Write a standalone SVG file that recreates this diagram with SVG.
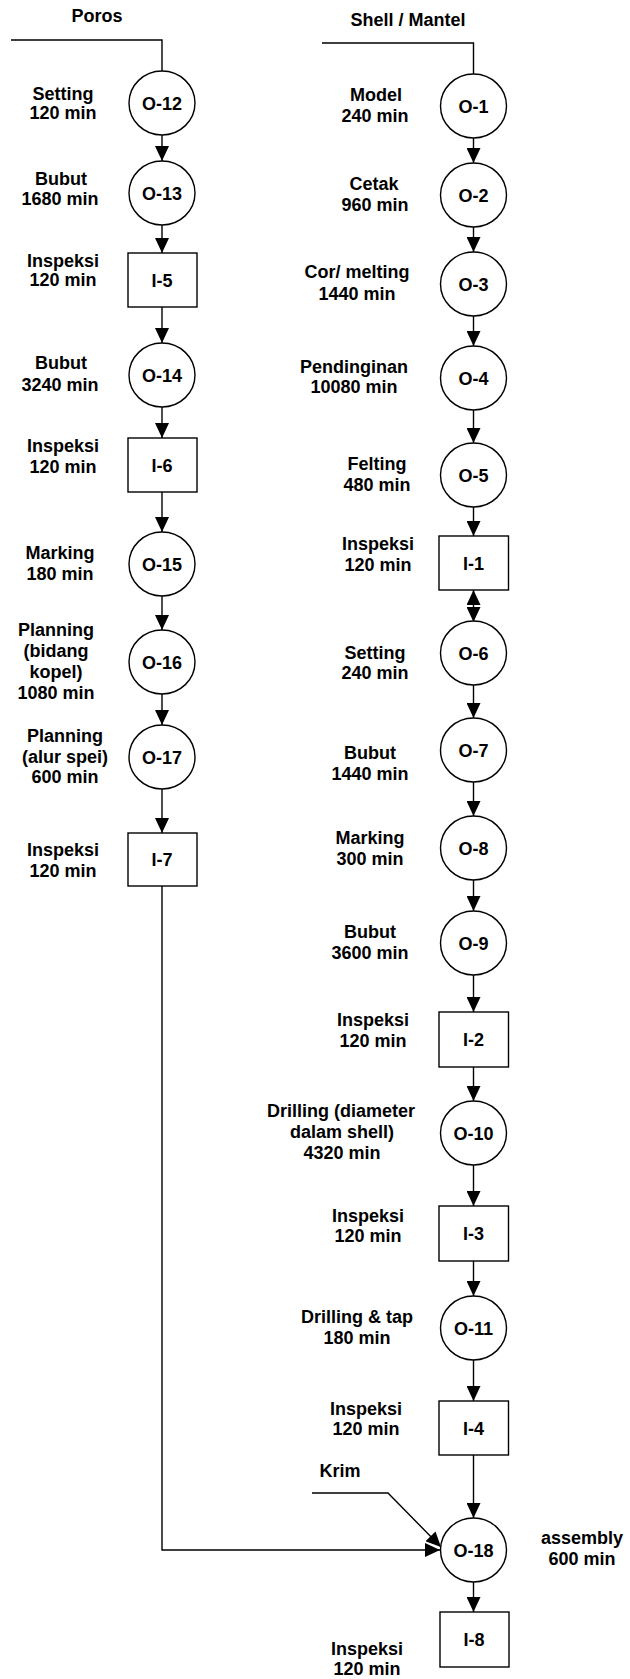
<svg xmlns="http://www.w3.org/2000/svg" width="630" height="1679" viewBox="0 0 630 1679">
  <defs>
    <style>
      .bg { fill: #ffffff; }
      .node { fill: #ffffff; stroke: #000000; stroke-width: 1.4; }
      .wire { fill: none; stroke: #000000; stroke-width: 1.4; }
      .arrow { fill: none; stroke: #000000; stroke-width: 1.4; marker-end: url(#head); }
      .id { font-family: "Liberation Sans", Arial, sans-serif; font-weight: bold; font-size: 18px; text-anchor: middle; fill: #000000; }
      .lbl { font-family: "Liberation Sans", Arial, sans-serif; font-weight: bold; font-size: 18px; text-anchor: middle; fill: #000000; }
    </style>
    <marker id="head" markerUnits="userSpaceOnUse" markerWidth="15" markerHeight="14" refX="15" refY="7" orient="auto-start-reverse">
      <path d="M0,0 L15,7 L0,14 Z" fill="#000000"/>
    </marker>
  </defs>

  <rect class="bg" x="0" y="0" width="630" height="1679"/>

  <!-- column headings -->
  <text class="lbl" x="97" y="22">Poros</text>
  <text class="lbl" x="408" y="26">Shell / Mantel</text>

  <!-- connectors -->
  <g id="connectors">
    <!-- Poros line -->
    <polyline class="wire" points="11,40 162,40 162,71"/>
    <line class="arrow" x1="162" y1="135" x2="162" y2="161"/>
    <line class="arrow" x1="162" y1="225" x2="162" y2="253"/>
    <line class="arrow" x1="162" y1="307" x2="162" y2="343"/>
    <line class="arrow" x1="162" y1="407" x2="162" y2="438"/>
    <line class="arrow" x1="162" y1="492" x2="162" y2="532"/>
    <line class="arrow" x1="162" y1="596" x2="162" y2="630"/>
    <line class="arrow" x1="162" y1="694" x2="162" y2="725"/>
    <line class="arrow" x1="162" y1="789" x2="162" y2="833"/>
    <polyline class="arrow" points="162,886 162,1550 440,1550"/>

    <!-- Shell / Mantel line -->
    <polyline class="wire" points="322,43 473.5,43 473.5,74"/>
    <line class="arrow" x1="473.5" y1="138" x2="473.5" y2="163"/>
    <line class="arrow" x1="473.5" y1="227" x2="473.5" y2="252"/>
    <line class="arrow" x1="473.5" y1="316" x2="473.5" y2="346"/>
    <line class="arrow" x1="473.5" y1="410" x2="473.5" y2="443"/>
    <line class="arrow" x1="473.5" y1="507" x2="473.5" y2="536"/>
    <line class="arrow" x1="473.5" y1="590" x2="473.5" y2="622" marker-start="url(#head)"/>
    <line class="arrow" x1="473.5" y1="685" x2="473.5" y2="718"/>
    <line class="arrow" x1="473.5" y1="782" x2="473.5" y2="816"/>
    <line class="arrow" x1="473.5" y1="880" x2="473.5" y2="911"/>
    <line class="arrow" x1="473.5" y1="975" x2="473.5" y2="1012"/>
    <line class="arrow" x1="473.5" y1="1067" x2="473.5" y2="1101"/>
    <line class="arrow" x1="473.5" y1="1165" x2="473.5" y2="1206"/>
    <line class="arrow" x1="473.5" y1="1261" x2="473.5" y2="1296"/>
    <line class="arrow" x1="473.5" y1="1360" x2="473.5" y2="1401"/>
    <line class="arrow" x1="473.5" y1="1455" x2="473.5" y2="1518"/>
    <line class="arrow" x1="473.5" y1="1582" x2="473.5" y2="1612"/>

    <!-- Krim feed -->
    <polyline class="arrow" points="312,1493 388,1493 441,1547"/>
  </g>

  <!-- Poros operations -->
  <g id="O-12"><ellipse class="node" cx="162" cy="103" rx="33" ry="32"/><text class="id" x="162" y="109.5">O-12</text>
    <text class="lbl" x="63" y="100">Setting</text><text class="lbl" x="63" y="119">120 min</text></g>
  <g id="O-13"><ellipse class="node" cx="162" cy="193" rx="33" ry="32"/><text class="id" x="162" y="199.5">O-13</text>
    <text class="lbl" x="61" y="185">Bubut</text><text class="lbl" x="60" y="205">1680 min</text></g>
  <g id="I-5"><rect class="node" x="128" y="253" width="69" height="54"/><text class="id" x="162" y="286.5">I-5</text>
    <text class="lbl" x="63" y="267">Inspeksi</text><text class="lbl" x="63" y="286">120 min</text></g>
  <g id="O-14"><ellipse class="node" cx="162" cy="375" rx="33" ry="32"/><text class="id" x="162" y="381.5">O-14</text>
    <text class="lbl" x="61" y="369">Bubut</text><text class="lbl" x="60" y="391">3240 min</text></g>
  <g id="I-6"><rect class="node" x="128" y="438" width="69" height="54"/><text class="id" x="162" y="471.5">I-6</text>
    <text class="lbl" x="63" y="452">Inspeksi</text><text class="lbl" x="63" y="473">120 min</text></g>
  <g id="O-15"><ellipse class="node" cx="162" cy="564" rx="33" ry="32"/><text class="id" x="162" y="570.5">O-15</text>
    <text class="lbl" x="60" y="559">Marking</text><text class="lbl" x="60" y="580">180 min</text></g>
  <g id="O-16"><ellipse class="node" cx="162" cy="662" rx="33" ry="32"/><text class="id" x="162" y="668.5">O-16</text>
    <text class="lbl" x="56" y="636">Planning</text><text class="lbl" x="56" y="657">(bidang</text>
    <text class="lbl" x="56" y="678">kopel)</text><text class="lbl" x="56" y="699">1080 min</text></g>
  <g id="O-17"><ellipse class="node" cx="162" cy="757" rx="33" ry="32"/><text class="id" x="162" y="763.5">O-17</text>
    <text class="lbl" x="65" y="742">Planning</text><text class="lbl" x="65" y="763">(alur spei)</text>
    <text class="lbl" x="65" y="783">600 min</text></g>
  <g id="I-7"><rect class="node" x="128" y="833" width="69" height="53"/><text class="id" x="162" y="866">I-7</text>
    <text class="lbl" x="63" y="856">Inspeksi</text><text class="lbl" x="63" y="877">120 min</text></g>

  <!-- Shell / Mantel operations -->
  <g id="O-1"><ellipse class="node" cx="473.5" cy="106" rx="33" ry="32"/><text class="id" x="473.5" y="112.5">O-1</text>
    <text class="lbl" x="376" y="101">Model</text><text class="lbl" x="375" y="122">240 min</text></g>
  <g id="O-2"><ellipse class="node" cx="473.5" cy="195" rx="33" ry="32"/><text class="id" x="473.5" y="201.5">O-2</text>
    <text class="lbl" x="374" y="190">Cetak</text><text class="lbl" x="375" y="211">960 min</text></g>
  <g id="O-3"><ellipse class="node" cx="473.5" cy="284" rx="33" ry="32"/><text class="id" x="473.5" y="290.5">O-3</text>
    <text class="lbl" x="357" y="278">Cor/ melting</text><text class="lbl" x="357" y="300">1440 min</text></g>
  <g id="O-4"><ellipse class="node" cx="473.5" cy="378" rx="33" ry="32"/><text class="id" x="473.5" y="384.5">O-4</text>
    <text class="lbl" x="354" y="373">Pendinginan</text><text class="lbl" x="354" y="393">10080 min</text></g>
  <g id="O-5"><ellipse class="node" cx="473.5" cy="475" rx="33" ry="32"/><text class="id" x="473.5" y="481.5">O-5</text>
    <text class="lbl" x="377" y="470">Felting</text><text class="lbl" x="377" y="491">480 min</text></g>
  <g id="I-1"><rect class="node" x="439" y="536" width="69.5" height="54"/><text class="id" x="473.5" y="569.5">I-1</text>
    <text class="lbl" x="378" y="550">Inspeksi</text><text class="lbl" x="378" y="571">120 min</text></g>
  <g id="O-6"><ellipse class="node" cx="473.5" cy="653" rx="33" ry="32"/><text class="id" x="473.5" y="659.5">O-6</text>
    <text class="lbl" x="375" y="659">Setting</text><text class="lbl" x="375" y="679">240 min</text></g>
  <g id="O-7"><ellipse class="node" cx="473.5" cy="750" rx="33" ry="32"/><text class="id" x="473.5" y="756.5">O-7</text>
    <text class="lbl" x="370" y="759">Bubut</text><text class="lbl" x="370" y="780">1440 min</text></g>
  <g id="O-8"><ellipse class="node" cx="473.5" cy="848" rx="33" ry="32"/><text class="id" x="473.5" y="854.5">O-8</text>
    <text class="lbl" x="370" y="844">Marking</text><text class="lbl" x="370" y="865">300 min</text></g>
  <g id="O-9"><ellipse class="node" cx="473.5" cy="943" rx="33" ry="32"/><text class="id" x="473.5" y="949.5">O-9</text>
    <text class="lbl" x="370" y="938">Bubut</text><text class="lbl" x="370" y="959">3600 min</text></g>
  <g id="I-2"><rect class="node" x="439" y="1012" width="69.5" height="55"/><text class="id" x="473.5" y="1046">I-2</text>
    <text class="lbl" x="373" y="1026">Inspeksi</text><text class="lbl" x="373" y="1047">120 min</text></g>
  <g id="O-10"><ellipse class="node" cx="473.5" cy="1133" rx="33" ry="32"/><text class="id" x="473.5" y="1139.5">O-10</text>
    <text class="lbl" x="341" y="1117">Drilling (diameter</text><text class="lbl" x="342" y="1138">dalam shell)</text>
    <text class="lbl" x="342" y="1159">4320 min</text></g>
  <g id="I-3"><rect class="node" x="439" y="1206" width="69.5" height="55"/><text class="id" x="473.5" y="1240">I-3</text>
    <text class="lbl" x="368" y="1222">Inspeksi</text><text class="lbl" x="368" y="1242">120 min</text></g>
  <g id="O-11"><ellipse class="node" cx="473.5" cy="1328" rx="33" ry="32"/><text class="id" x="473.5" y="1334.5">O-11</text>
    <text class="lbl" x="357" y="1323">Drilling &amp; tap</text><text class="lbl" x="357" y="1344">180 min</text></g>
  <g id="I-4"><rect class="node" x="439" y="1401" width="69.5" height="54"/><text class="id" x="473.5" y="1434.5">I-4</text>
    <text class="lbl" x="366" y="1415">Inspeksi</text><text class="lbl" x="366" y="1435">120 min</text></g>

  <!-- assembly and final inspection -->
  <g id="Krim"><text class="lbl" x="340" y="1477">Krim</text></g>
  <g id="O-18"><ellipse class="node" cx="473.5" cy="1550" rx="33" ry="32"/><text class="id" x="473.5" y="1556.5">O-18</text>
    <text class="lbl" x="582" y="1544">assembly</text><text class="lbl" x="582" y="1565">600 min</text></g>
  <g id="I-8"><rect class="node" x="440" y="1612" width="69" height="55"/><text class="id" x="474" y="1646">I-8</text>
    <text class="lbl" x="367" y="1655">Inspeksi</text><text class="lbl" x="367" y="1675">120 min</text></g>
</svg>
